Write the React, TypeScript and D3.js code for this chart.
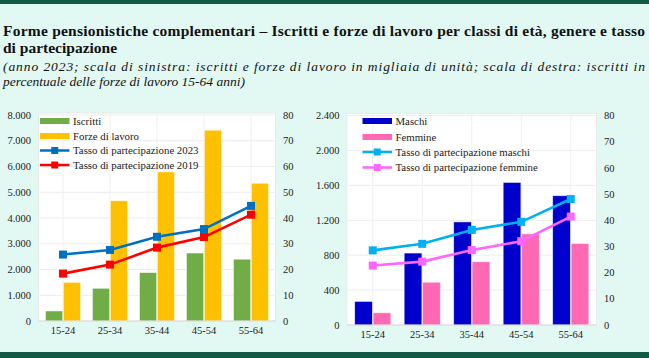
import * as d3 from "d3";

const categories = ["15-24", "25-34", "35-44", "45-54", "55-64"];

// pannello sinistro (migliaia di unità / percentuale)
const iscritti = [390, 1270, 1880, 2640, 2400];
const forzeLavoro = [1500, 4670, 5790, 7410, 5350];
const tasso2023 = [25.8, 27.6, 32.7, 35.7, 44.7];
const tasso2019 = [18.4, 21.9, 28.5, 32.6, 41.3];

// pannello destro
const maschi = [270, 824, 1181, 1633, 1481];
const femmine = [140, 490, 725, 1044, 934];
const tassoMaschi = [28.5, 31.0, 36.3, 39.4, 48.1];
const tassoFemmine = [22.7, 24.2, 28.6, 32.0, 41.4];

const leftTicksA = [0, 1000, 2000, 3000, 4000, 5000, 6000, 7000, 8000];
const leftTicksB = [0, 400, 800, 1200, 1600, 2000, 2400];
const rightTicks = [0, 10, 20, 30, 40, 50, 60, 70, 80];

const itFormat = d3.formatLocale({
  decimal: ",",
  thousands: ".",
  grouping: [3],
  currency: ["€", ""],
}).format(",d");

const FONT = "Liberation Serif";

type Series = { name: string; values: number[]; color: string };

type PanelProps = {
  x0: number;
  x1: number;
  yTop: number;
  yBottom: number;
  leftMax: number;
  leftTicks: number[];
  leftLabelX: number;
  rightLabelX: number;
  bars: Series[];
  lines: Series[];
  legendX: number;
  legendRows: number[];
  padding: number;
};

function Panel(p: PanelProps) {
  const x = d3
    .scaleBand<string>()
    .domain(categories)
    .range([p.x0, p.x1])
    .paddingInner(p.padding)
    .paddingOuter(p.padding / 2);
  const sub = d3
    .scaleBand<number>()
    .domain(p.bars.map((_, i) => i))
    .range([0, x.bandwidth()])
    .paddingInner(0.04);
  const yL = d3.scaleLinear().domain([0, p.leftMax]).range([p.yBottom, p.yTop]);
  const yR = d3.scaleLinear().domain([0, 80]).range([p.yBottom, p.yTop]);
  const cx = (c: string) => (x(c) ?? 0) + x.bandwidth() / 2;
  const path = d3
    .line<number>()
    .x((_, i) => cx(categories[i]))
    .y((v) => yR(v));

  const legend = [
    ...p.bars.map((s) => ({ ...s, kind: "bar" })),
    ...p.lines.map((s) => ({ ...s, kind: "line" })),
  ];

  return (
    <g>
      <rect
        x={p.x0 - 1}
        y={p.yTop - 2}
        width={p.x1 - p.x0 + 2}
        height={p.yBottom - p.yTop + 2}
        fill="#ffffff"
        stroke="#e6e6e6"
        strokeWidth={0.8}
      />
      {p.leftTicks
        .filter((t) => t > 0)
        .map((t) => (
          <line key={t} x1={p.x0} x2={p.x1} y1={yL(t)} y2={yL(t)} stroke="#ececec" strokeWidth={1} />
        ))}
      {categories.map((c) => (
        <line
          key={c}
          x1={cx(c)}
          x2={cx(c)}
          y1={p.yTop - 2}
          y2={p.yBottom}
          stroke="#f0f0f0"
          strokeWidth={1}
        />
      ))}
      {p.bars.map((s, si) =>
        s.values.map((v, i) => (
          <rect
            key={s.name + i}
            x={(x(categories[i]) ?? 0) + (sub(si) ?? 0)}
            y={yL(v)}
            width={sub.bandwidth()}
            height={p.yBottom - yL(v)}
            fill={s.color}
            stroke="#ffffff"
            strokeOpacity={0.6}
            strokeWidth={0.8}
          />
        ))
      )}
      <line x1={p.x0 - 1} x2={p.x1 + 1} y1={p.yBottom} y2={p.yBottom} stroke="#d9d9d9" strokeWidth={1.2} />
      {p.lines.map((s) => (
        <g key={s.name}>
          <path d={path(s.values) ?? ""} fill="none" stroke={s.color} strokeWidth={2.6} />
          {s.values.map((v, i) => (
            <rect
              key={i}
              x={cx(categories[i]) - 4}
              y={yR(v) - 4}
              width={8}
              height={8}
              fill={s.color}
            />
          ))}
        </g>
      ))}
      {p.leftTicks.map((t) => (
        <text key={t} x={p.leftLabelX} y={yL(t)} dy="0.35em" textAnchor="end" fontSize={10.5} fill="#222">
          {itFormat(t)}
        </text>
      ))}
      {rightTicks.map((t) => (
        <text key={t} x={p.rightLabelX} y={yR(t)} dy="0.35em" fontSize={10.5} fill="#222">
          {t}
        </text>
      ))}
      {categories.map((c) => (
        <text key={c} x={cx(c)} y={p.yBottom + 12.5} textAnchor="middle" fontSize={10.5} fill="#222">
          {c}
        </text>
      ))}
      {legend.map((s, i) => {
        const ry = p.legendRows[i];
        return (
          <g key={s.name}>
            {s.kind === "bar" ? (
              <rect x={p.legendX} y={ry - 3} width={29.5} height={6} fill={s.color} />
            ) : (
              <>
                <line x1={p.legendX} x2={p.legendX + 29.5} y1={ry} y2={ry} stroke={s.color} strokeWidth={2.5} />
                <rect x={p.legendX + 14.75 - 3.5} y={ry - 3.5} width={7} height={7} fill={s.color} />
              </>
            )}
            <text x={p.legendX + 33} y={ry} dy="0.35em" fontSize={10.8} fill="#222">
              {s.name}
            </text>
          </g>
        );
      })}
    </g>
  );
}

export default function App() {
  return (
    <svg
      width={649}
      height={358}
      fontFamily={FONT}
      style={{ position: "absolute", left: 0, top: 0 }}
    >
      <rect width={649} height={358} fill="#e2f8f2" />
      <rect width={649} height={4} fill="#125a45" />
      <rect y={352} width={649} height={6} fill="#125a45" />
      <text x={3} y={36} fontSize={15.5} fontWeight="bold" fill="#111" textLength={642} lengthAdjust="spacing">
        Forme pensionistiche complementari – Iscritti e forze di lavoro per classi di età, genere e tasso
      </text>
      <text x={3} y={53} fontSize={15.5} fontWeight="bold" fill="#111">
        di partecipazione
      </text>
      <text x={3} y={71} fontSize={13.5} fontStyle="italic" fill="#111" textLength={642} lengthAdjust="spacing">
        (anno 2023; scala di sinistra: iscritti e forze di lavoro in migliaia di unità; scala di destra: iscritti in
      </text>
      <text x={3} y={86} fontSize={13.5} fontStyle="italic" fill="#111">
        percentuale delle forze di lavoro 15-64 anni)
      </text>
      <Panel
        x0={39.5}
        x1={274.5}
        yTop={115}
        yBottom={321}
        leftMax={8000}
        leftTicks={leftTicksA}
        leftLabelX={31}
        rightLabelX={283}
        padding={0.255}
        bars={[
          { name: "Iscritti", values: iscritti, color: "#70ad47" },
          { name: "Forze di lavoro", values: forzeLavoro, color: "#ffc000" },
        ]}
        lines={[
          { name: "Tasso di partecipazione 2023", values: tasso2023, color: "#0070c0" },
          { name: "Tasso di partecipazione 2019", values: tasso2019, color: "#ff0000" },
        ]}
        legendX={40}
        legendRows={[121, 136, 150.5, 165]}
      />
      <Panel
        x0={348}
        x1={595.5}
        yTop={115.5}
        yBottom={325}
        leftMax={2400}
        leftTicks={leftTicksB}
        leftLabelX={339.5}
        rightLabelX={604}
        padding={0.27}
        bars={[
          { name: "Maschi", values: maschi, color: "#0000cc" },
          { name: "Femmine", values: femmine, color: "#ff69b4" },
        ]}
        lines={[
          { name: "Tasso di partecipazione maschi", values: tassoMaschi, color: "#00b0f0" },
          { name: "Tasso di partecipazione femmine", values: tassoFemmine, color: "#ff66ff" },
        ]}
        legendX={362.5}
        legendRows={[121, 137, 152, 167.5]}
      />
    </svg>
  );
}
